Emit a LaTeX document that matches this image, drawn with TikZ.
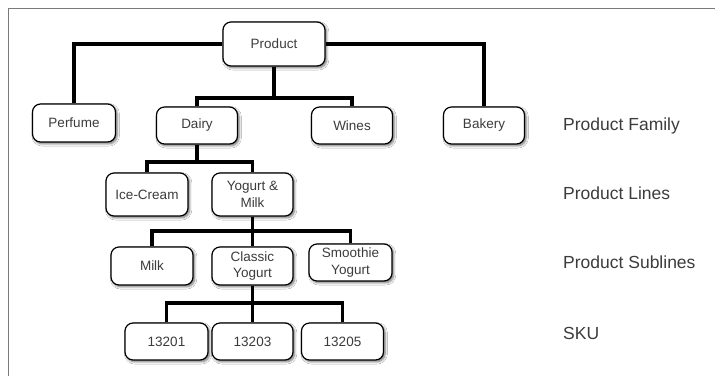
\documentclass[tikz,border=0pt]{standalone}
\usepackage{fontspec}
\setmainfont{Liberation Sans}
\usetikzlibrary{shadows.blur,backgrounds}
\definecolor{txt}{HTML}{3C3C3C}
\definecolor{frame}{HTML}{7A7A7A}
\tikzset{
  box/.style={draw=black, line width=1.2pt, rounded corners=8pt, fill=white,
    minimum width=81pt, minimum height=38pt, inner sep=2pt, align=center,
    text=txt, font=\fontsize{13.5}{16.5}\selectfont,
    blur shadow={shadow xshift=1.6pt, shadow yshift=-1.8pt, shadow blur steps=6,
      shadow blur radius=2.2pt, shadow opacity=55}},
  conn/.style={draw=black, line width=3.6pt},
  lvl/.style={anchor=west, text=txt, inner sep=0pt, font=\fontsize{17.5}{20}\selectfont}
}
\begin{document}
\begin{tikzpicture}[x=1pt,y=-1pt]
\useasboundingbox (0,0) rectangle (715,376);

\node[box, minimum width=102pt, minimum height=44pt] (prod) at (274,44) {Product};
\node[box, minimum width=83pt] (perf) at (74,123) {Perfume};
\node[box, minimum height=37pt] (dairy) at (197,125.5) {Dairy};
\node[box, minimum height=37pt] (wines) at (352,125.5) {Wines};
\node[box, minimum height=37pt] (bake) at (484,125.5) {Bakery};
\node[box, minimum width=82pt, minimum height=43pt] (ice) at (147,194.5) {Ice-Cream};
\node[box, minimum height=43pt] (yog) at (252.5,194.5) {Yogurt \&\\Milk};
\node[box, minimum width=82pt] (milk) at (152,266) {Milk};
\node[box] (class) at (252.5,266) {Classic\\Yogurt};
\node[box, minimum width=83pt, minimum height=37pt] (smooth) at (350.5,262.5) {Smoothie\\Yogurt};
\node[box, minimum width=83pt, minimum height=37pt] (s1) at (166.5,341.5) {13201};
\node[box, minimum height=37pt] (s2) at (252.5,341.5) {13203};
\node[box, minimum width=82pt, minimum height=37pt] (s3) at (342.5,341.5) {13205};

\node[lvl] (lf) at (563,125.5) {Product Family};
\node[lvl] (ll) at (563,193) {Product Lines};
\node[lvl] (ls) at (563,262) {Product Sublines};
\node[lvl] (lk) at (563,333) {SKU};

\coordinate (b1) at (0,98);
\coordinate (b2) at (0,162);
\coordinate (b3) at (0,231);
\coordinate (b4) at (0,303);

\begin{scope}[on background layer]
\fill[white] (0,0) rectangle (715,376);
\draw[frame, line width=1pt] (715,8.5) -- (8.5,8.5) -- (8.5,376);
\draw[conn] (prod.west) -| (perf.north);
\draw[conn] (prod.east) -| (bake.north);
\draw[conn] (prod.south) -- (prod.south |- b1);
\draw[conn] (dairy.north) |- (wines.north |- b1) -- (wines.north);
\draw[conn] (dairy.south) -- (dairy.south |- b2);
\draw[conn] (ice.north) |- (yog.north |- b2) -- (yog.north);
\draw[conn] (yog.south) -- (yog.south |- b3);
\draw[conn] (milk.north) |- (smooth.north |- b3) -- (smooth.north);
\draw[conn] (class.north) -- (class.north |- b3);
\draw[conn] (class.south) -- (class.south |- b4);
\draw[conn] (s1.north) |- (s3.north |- b4) -- (s3.north);
\draw[conn] (s2.north) -- (s2.north |- b4);
\end{scope}
\end{tikzpicture}
\end{document}
